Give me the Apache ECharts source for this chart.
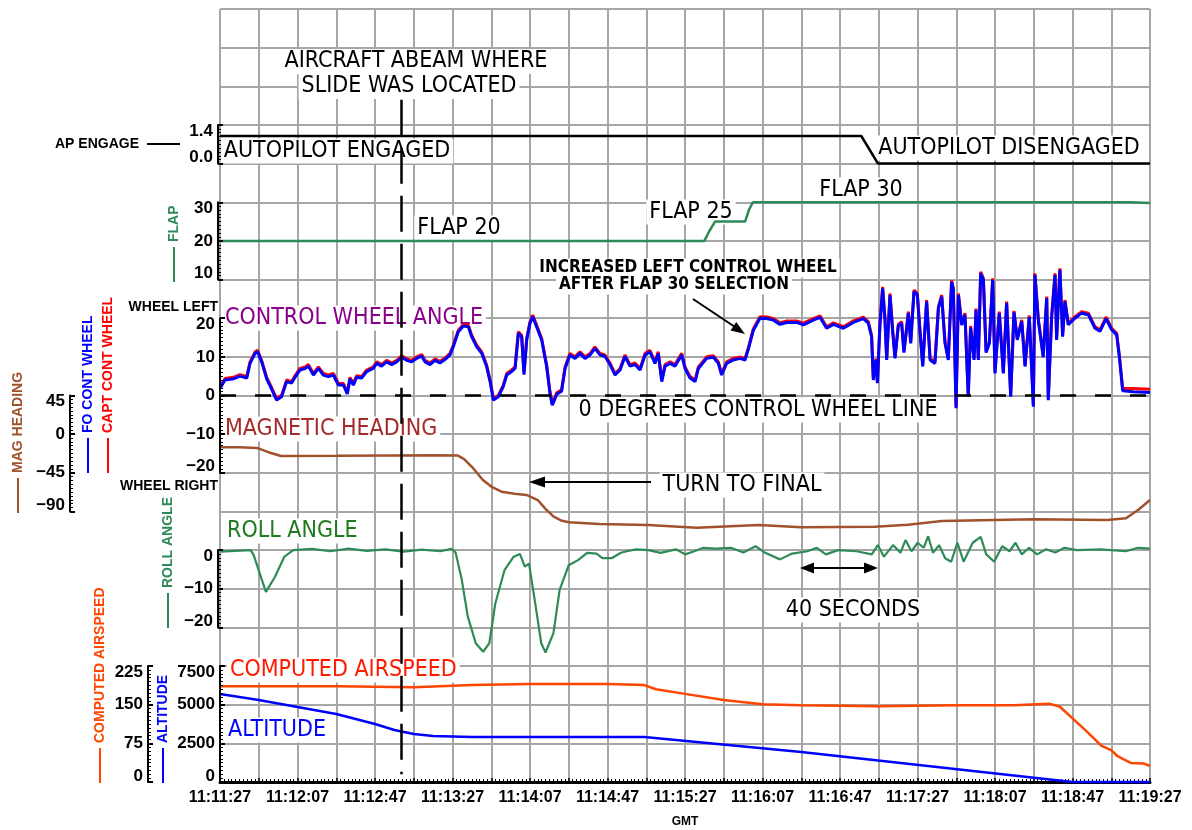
<!DOCTYPE html>
<html><head><meta charset="utf-8">
<script src="https://cdn.jsdelivr.net/npm/echarts@6/dist/echarts.min.js"></script>
<style>html,body{margin:0;padding:0;background:#fff}#c{width:1192px;height:830px}</style>
</head><body><div id="c"></div>
<script>
// ---------- DATA (time in seconds after 11:11:27) ----------
const timeLabels = ['11:11:27','11:12:07','11:12:47','11:13:27','11:14:07','11:14:47','11:15:27','11:16:07','11:16:47','11:17:27','11:18:07','11:18:47','11:19:27'];
const abeamTime = 93.4;

const apEngage = [[0,1],[331,1],[339.6,0],[480,0]];
const flapSetting = [[0,20],[250,20],[252.5,22.5],[255.5,25],[271,25],[273,28],[275,30],[470,30],[480,29.8]];

const wheelT = [
 0,2.6,6.9,10.3,13.8,15.5,18.1,19.4,21.5,24.1,
 26.7,29.2,31.8,34.4,37.0,38.7,41.3,43.9,45.6,48.2,
 50.8,53.3,55.9,58.5,61.1,63.7,65.7,67.1,68.8,70.5,
 73.1,75.7,79.1,80.9,83.4,86.0,88.6,91.2,93.8,96.3,
 98.9,101.5,104.1,105.8,108.4,111.0,113.5,116.1,118.7,120.4,
 123.0,125.6,128.2,129.9,132.5,135.1,137.6,139.4,141.1,143.7,
 146.2,148.0,150.5,152.3,154.0,155.7,156.9,158.3,160.0,161.4,
 163.4,166.0,168.6,170.3,171.5,173.8,176.3,178.1,180.6,183.2,
 185.8,188.4,191.0,193.5,196.1,198.7,201.3,203.9,206.5,209.0,
 211.6,214.2,216.8,219.4,221.9,224.5,226.2,228.0,229.7,232.3,
 234.8,238.3,240.0,242.6,245.2,246.9,251.2,254.6,257.2,258.9,
 261.5,264.9,268.4,271.0,272.7,275.3,278.7,282.1,285.6,289.0,
 292.5,297.6,301.1,306.2,309.7,313.1,316.6,321.7,326.9,332.0,
 334.6,336.3,337.2,338.6,339.3,340.6,342.0,343.2,344.1,345.8,
 347.2,348.4,350.1,351.8,353.0,355.3,356.5,358.2,359.9,361.3,
 362.7,364.7,366.5,369.0,370.8,372.5,374.2,375.9,377.6,378.5,
 379.9,381.1,382.8,384.5,386.2,387.4,389.2,390.2,391.4,392.6,
 394.0,395.4,397.1,398.8,400.0,402.2,404.3,406.0,408.1,409.8,
 411.5,413.8,415.5,417.7,419.8,420.6,422.4,424.9,426.7,427.5,
 429.2,431.0,431.8,433.5,434.9,436.1,437.8,441.3,444.7,448.2,
 451.6,454.2,457.3,460.2,462.8,464.2,465.9,471.4,480];
const foWheel = [
 1.8,4.0,4.3,5.0,4.5,8.3,10.9,11.3,8.7,4.3,
 1.6,-1.2,-0.3,3.6,3.2,4.7,6.6,7.0,7.6,5.3,
 7.0,5.3,4.9,5.3,2.7,2.7,0.4,4.3,2.7,4.7,
 4.5,6.2,7.0,8.3,7.6,8.7,8.0,8.7,9.9,9.1,
 8.7,9.6,10.2,8.7,8.0,9.1,8.4,9.3,10.5,12.6,
 16.5,18.0,17.8,15.2,12.6,10.9,7.5,3.6,-1.2,-0.3,
 2.3,5.3,6.2,7.0,16.1,15.2,5.4,14.4,18.7,20.4,
 17.8,14.4,7.5,0.6,-2.5,0.3,1.1,7.0,10.5,9.6,
 10.9,9.6,10.5,12.2,10.5,10.1,8.0,5.3,6.6,10.1,
 7.6,8.0,6.6,10.5,11.3,8.3,10.9,3.6,7.6,8.3,
 7.6,10.5,7.0,4.5,3.6,7.0,9.6,9.9,8.3,5.3,
 8.3,9.2,9.6,9.2,12.0,16.9,20.0,19.9,19.5,18.4,
 18.9,18.9,18.3,19.5,20.2,17.4,18.4,17.4,18.9,19.9,
 18.7,15.2,4.0,9.2,3.2,18.0,27.7,19.7,9.2,26.0,
 16.4,9.6,18.0,18.7,11.1,21.3,13.5,26.9,26.0,16.4,
 7.5,24.3,9.2,8.3,22.6,25.6,13.5,9.2,29.4,27.3,
 -3.3,26.0,18.2,20.9,-0.3,17.6,9.2,22.1,9.2,31.6,
 29.9,11.1,13.5,29.9,5.7,21.3,5.7,23.9,-0.3,21.5,
 14.4,19.2,7.5,20.3,-2.9,31.2,19.2,9.9,25.2,-1.2,
 20.0,31.2,14.4,32.5,15.2,24.3,18.3,20.0,21.3,20.9,
 17.4,16.6,19.9,17.0,15.7,9.9,1.2,1.0,0.8];
const captWheel = [
 2.2,4.4,4.7,5.4,4.9,8.7,11.3,11.7,9.1,4.7,
 2.0,-0.8,0.1,4.0,3.6,5.1,7.0,7.4,8.0,5.7,
 7.4,5.7,5.3,5.7,3.1,3.1,0.8,4.7,3.1,5.1,
 4.9,6.6,7.4,8.7,8.0,9.1,8.4,9.1,10.3,9.5,
 9.1,10.0,10.6,9.1,8.4,9.5,8.8,9.7,10.9,13.0,
 16.9,18.4,18.2,15.6,13.0,11.3,7.9,4.0,-0.8,0.1,
 2.7,5.7,6.6,7.4,16.5,15.6,5.8,14.8,19.1,20.8,
 18.2,14.8,7.9,1.0,-2.1,0.7,1.5,7.4,10.9,10.0,
 11.3,10.0,10.9,12.6,10.9,10.5,8.4,5.7,7.0,10.5,
 8.0,8.4,7.0,10.9,11.7,8.7,11.3,4.0,8.0,8.7,
 8.0,10.9,7.4,4.9,4.0,7.4,10.0,10.3,8.7,5.7,
 8.7,9.6,10.0,9.6,12.4,17.3,20.4,20.3,19.9,18.8,
 19.3,19.3,18.7,19.9,20.6,17.8,18.8,17.8,19.3,20.3,
 19.1,15.6,4.4,9.6,3.6,18.4,28.1,20.1,9.6,26.4,
 16.8,10.0,18.4,19.1,11.5,21.7,13.9,27.3,26.4,16.8,
 7.9,24.7,9.6,8.7,23.0,26.0,13.9,9.6,29.8,27.7,
 -2.9,26.4,18.6,21.3,0.1,18.0,9.6,22.5,9.6,32.0,
 30.3,11.5,13.9,30.3,6.1,21.7,6.1,24.3,0.1,21.9,
 14.8,19.6,7.9,20.7,-2.5,31.6,19.6,10.3,25.6,-0.8,
 20.4,31.6,14.8,32.9,15.6,24.7,18.7,20.4,21.7,21.3,
 17.8,17.0,20.3,17.4,16.1,10.3,1.8,1.8,1.6];

const magHeading = [[0,-15.3],[10,-15.3],[19,-16],[25,-21],[31.5,-25.4],[60,-25.2],[90,-24.8],[110,-24.6],[122.6,-24.8],
 [126,-29],[130,-38],[135.7,-53.4],[140,-61],[145.3,-67.0],[152,-69.5],[158.2,-70.8],[164,-76.7],[168,-87],[172.2,-96.1],
 [176,-100.5],[180.1,-102.6],[195.6,-104.6],[220.9,-105.8],[246,-108.9],[278,-105.8],[300,-108.5],[338,-107.8],[355,-105.5],
 [372.6,-101.1],[420,-99.1],[457.8,-99.9],[467.6,-98],[474,-88],[480,-76.7]];

const rollAngle = [[0,-0.4],[15.8,0],[17.4,-1.3],[20.5,-6.0],[23.7,-10.8],[28.4,-6.9],[33.2,-1.7],[37.9,0],[47.4,0.3],[56.9,-0.3],
 [66.3,0.4],[75.8,-0.2],[85.3,0.2],[94.8,-0.4],[104.2,0.1],[113.7,-0.3],[119.4,0.3],[121.6,-0.6],[124.8,-7.7],[127.9,-17.2],
 [132.0,-24.1],[135.8,-26.3],[139.0,-24.1],[142.1,-13.8],[146.9,-5.1],[151.6,-1.7],[154.8,-1.0],[157.3,-4.3],[159.5,-3.5],
 [162.7,-13.8],[165.8,-24.1],[168.0,-26.5],[172.1,-21.5],[175.3,-10.3],[180.0,-3.9],[184.8,-2.6],[189.5,-0.7],[194.3,-0.9],
 [197.4,-2.1],[202.1,-2.1],[206.9,-0.7],[210.0,-0.3],[214.8,0.2],[221.1,0],[227.4,-0.7],[235.3,0.2],[240.1,-1.1],[244.8,-0.3],
 [249.5,0.6],[255.8,0.4],[263.7,0.6],[270.1,-0.6],[276.4,1.0],[281.1,-0.6],[289.0,-2.4],[295.3,-0.9],[303.2,-0.3],[308.0,0.6],
 [312.7,-1.1],[319.0,0],[328.5,-0.3],[336.4,-1.1],[339.5,1.3],[342.7,-1.7],[347.4,1.3],[351.2,-0.7],[353.8,2.6],[356.9,-0.3],
 [360.1,1.9],[363.2,0.6],[365.5,3.6],[368.0,-0.7],[371.1,1.3],[374.3,-2.1],[377.4,-3.0],[380.6,1.9],[383.8,-3.0],[388.5,1.9],
 [392.6,3.4],[395.5,-1.1],[399.6,-3.0],[403.7,1.0],[407.5,-0.3],[410.6,1.9],[413.8,-1.1],[417.6,0.6],[421.7,-1.1],[426.4,0.2],
 [431.1,-0.6],[435.9,0.6],[442.2,0],[454.8,0.2],[467.5,-0.3],[473.8,0.6],[480,0.4]];

const airspeed = [[0,186],[20,186],[60,186],[100,184],[130,188],[160,190],[200,190],[219,188],[225,180],[240,171],[260,159],
 [280,151],[300,149],[340,147],[380,149],[410,149],[428,152],[433.5,146],[441,120],[446.5,101],[455,70],[460,62],[463.3,50],
 [470,37],[476.6,36],[480,31]];
const altitude = [[0,5692],[20,5304],[40,4851],[60,4398],[80,3751],[90,3363],[100,3105],[110,2975],[130,2911],[219,2911],
 [300,1940],[440,0],[480,0]];

// ---------- LAYOUT ----------
const L = 220, W = 930, CELL = 38.65;
const gridTop = 9;
const rowTop = r => gridTop + r * CELL;
const AXFONT = {fontFamily:'Liberation Sans', fontWeight:'bold', fontSize:17, color:'#000'};
const minus = v => String(v).replace('-', '\u2212');

function bracketAxis(grid, min, max, interval, offset, fmt) {
  return {
    type:'value', gridIndex:grid, min, max, interval, position:'left', offset, z:4,
    axisLine:{show:true, onZero:false, lineStyle:{color:'#000', width:2}},
    axisTick:{show:true, inside:true, length:5, lineStyle:{color:'#000', width:2}},
    minorTick:{show:true, splitNumber:10, length:3, lineStyle:{color:'#000', width:1}},
    splitLine:{show:false},
    axisLabel:Object.assign({}, AXFONT, {margin:5, lineHeight:12,
      verticalAlignMaxLabel:'top', verticalAlignMinLabel:'bottom',
      formatter: fmt || (v => minus(v))})
  };
}

const grids = [
  {left:L, width:W, top:gridTop, height:20*CELL},          // 0 background
  {left:L, width:W, top:rowTop(3), height:CELL},            // 1 AP
  {left:L, width:W, top:rowTop(5), height:2*CELL},          // 2 flap
  {left:L, width:W, top:rowTop(8), height:4*CELL},          // 3 wheel
  {left:L, width:W, top:rowTop(10), height:3*CELL},         // 4 heading
  {left:L, width:W, top:rowTop(14), height:2*CELL},         // 5 roll
  {left:L, width:W, top:rowTop(17), height:3*CELL}          // 6 speed/alt
];

const xAxes = grids.map((g, i) => i === 0 ? {
  type:'value', gridIndex:0, min:0, max:480, interval:20, position:'bottom',
  axisLine:{show:true, onZero:false, lineStyle:{color:'#000', width:3}},
  axisTick:{show:true, inside:true, length:4, lineStyle:{color:'#000', width:1.5}},
  minorTick:{show:true, splitNumber:10, length:3, lineStyle:{color:'#000', width:1}},
  splitLine:{show:true, lineStyle:{color:'#a6a6a6', width:2}},
  axisLabel:Object.assign({}, AXFONT, {fontSize:16, margin:8, formatter: v => v % 40 === 0 ? timeLabels[v/40] : ''})
} : {type:'value', gridIndex:i, min:0, max:480, show:false});

const yAxes = [
  {type:'value', gridIndex:0, min:0, max:20, interval:1, axisLine:{show:false}, axisTick:{show:false},
   axisLabel:{show:false}, splitLine:{show:true, showMinLine:false, lineStyle:{color:'#a6a6a6', width:2}}},
  bracketAxis(1, 0, 1.4, 1.4, 2, v => v.toFixed(1)),
  bracketAxis(2, 10, 30, 10, 2),
  bracketAxis(3, -20, 20, 10, 0),
  bracketAxis(4, -90, 45, 45, 150),
  bracketAxis(5, -20, 0, 10, 2),
  bracketAxis(6, 0, 225, 75, 72),
  bracketAxis(6, 0, 7500, 2500, 0)
];

const zip = (t, v) => t.map((x, i) => [x, v[i]]);
function line(name, data, xi, yi, color, width, extra) {
  return Object.assign({type:'line', name, data, xAxisIndex:xi, yAxisIndex:yi, showSymbol:false, symbol:'none',
    clip:false, smooth:false, lineStyle:{color, width}, z:3}, extra || {});
}

const series = [
  line('abeam', [[abeamTime, 0.2]], 0, 0, 'rgba(0,0,0,0)', 0, {
    markLine:{silent:true, symbol:['none','none'], label:{show:false},
      lineStyle:{color:'#000', width:2.5, type:[36,12]},
      data:[[{coord:[abeamTime, 17.65]}, {coord:[abeamTime, 0.2]}]]}}),
  line('AP ENGAGE', apEngage, 1, 1, '#000', 2.5),
  line('FLAP', flapSetting, 2, 2, '#2E8B57', 2.5),
  line('CAPT CONT WHEEL', zip(wheelT, captWheel), 3, 3, '#FF0000', 3),
  line('FO CONT WHEEL', zip(wheelT, foWheel), 3, 3, '#0000FF', 3, {
    markLine:{silent:true, symbol:['none','none'], label:{show:false},
      lineStyle:{color:'#000', width:2.5, type:[16,19]}, data:[{yAxis:0}]}}),
  line('MAG HEADING', magHeading, 4, 4, '#A0522D', 2.5),
  line('ROLL ANGLE', rollAngle, 5, 5, '#2E8B57', 2.2),
  line('COMPUTED AIRSPEED', airspeed, 6, 6, '#FF4500', 2.5),
  line('ALTITUDE', altitude, 6, 7, '#0000FF', 2.5)
];

// ---------- TEXT ANNOTATIONS ----------
const ANN = 'DejaVu Sans Condensed';
function ann(text, x, y, fill, align, size, weight) {
  return {type:'text', z:1, x, y, style:{text, fill:fill||'#000', align:align||'center', verticalAlign:'middle',
    fontFamily:ANN, fontSize:size||23, fontWeight:weight||'normal', backgroundColor:'#fff', padding:[1,3]}};
}
function lbl(text, x, y, fill, align) {
  return {type:'text', z:1, x, y, style:{text, fill:fill||'#000', align:align||'right', verticalAlign:'middle',
    fontFamily:'Liberation Sans', fontSize:14, fontWeight:'bold'}};
}
function vlbl(text, x, yBottom, fill) {
  return [
    {type:'text', z:1, x, y:yBottom, rotation:Math.PI/2, style:{text, fill, align:'left', verticalAlign:'middle',
      fontFamily:'Liberation Sans', fontSize:14, fontWeight:'bold'}},
    {type:'line', z:1, shape:{x1:x, y1:yBottom+5, x2:x, y2:yBottom+40}, style:{stroke:fill, lineWidth:2}}
  ];
}
function seg(x1, y1, x2, y2, w) {
  return {type:'line', z:1, shape:{x1, y1, x2, y2}, style:{stroke:'#000', lineWidth:w||2}};
}
function head(points) {
  return {type:'polygon', z:1, shape:{points}, style:{fill:'#000'}};
}
const graphics = [
  ann('AIRCRAFT ABEAM WHERE', 416, 61.5),
  ann('SLIDE WAS LOCATED', 409, 86.5),
  ann('AUTOPILOT ENGAGED', 337, 151),
  ann('AUTOPILOT DISENGAGED', 1009, 148),
  ann('FLAP 20', 459, 228),
  ann('FLAP 25', 691, 212),
  ann('FLAP 30', 861, 190),
  ann('INCREASED LEFT CONTROL WHEEL', 688, 268, '#000', 'center', 17, 'bold'),
  ann('AFTER FLAP 30 SELECTION', 674, 285, '#000', 'center', 17, 'bold'),
  ann('CONTROL WHEEL ANGLE', 222, 318, '#8B008B', 'left'),
  ann('0 DEGREES CONTROL WHEEL LINE', 758, 410),
  ann('MAGNETIC HEADING', 222, 429, '#A52A2A', 'left'),
  ann('TURN TO FINAL', 742, 485),
  ann('ROLL ANGLE', 224, 531, '#1E7B1E', 'left'),
  ann('40 SECONDS', 853, 610),
  ann('COMPUTED AIRSPEED', 227, 670, '#FF1A00', 'left'),
  ann('ALTITUDE', 225, 730, '#0000FF', 'left'),
  seg(693, 299, 735, 327), head([[745,334],[730.6,330.4],[736.2,322]]),
  seg(651, 482, 540, 482), head([[529,482],[545,476.5],[545,487.5]]),
  seg(812, 568, 866, 568), head([[800,568],[814,562.5],[814,573.5]]), head([[878,568],[864,562.5],[864,573.5]]),
  lbl('AP ENGAGE', 139, 144), seg(147, 144, 180, 144),
  lbl('WHEEL LEFT', 218, 307.5),
  lbl('WHEEL RIGHT', 218, 486),
  {type:'text', z:1, x:685, y:822, style:{text:'GMT', fill:'#000', align:'center', verticalAlign:'middle',
    fontFamily:'Liberation Sans', fontSize:12, fontWeight:'bold'}},
  ...vlbl('FLAP', 174, 242, '#2E8B57'),
  ...vlbl('MAG HEADING', 18, 473, '#A0522D'),
  ...vlbl('FO CONT WHEEL', 88, 433, '#0000FF'),
  ...vlbl('CAPT CONT WHEEL', 108, 433, '#FF0000'),
  ...vlbl('ROLL ANGLE', 168, 588, '#2E8B57'),
  ...vlbl('COMPUTED AIRSPEED', 100, 743, '#FF4500'),
  ...vlbl('ALTITUDE', 163, 743, '#0000FF')
];

const chart = echarts.init(document.getElementById('c'), null, {renderer:'canvas'});
chart.setOption({
  animation:false,
  backgroundColor:'#fff',
  grid:grids, xAxis:xAxes, yAxis:yAxes, series,
  graphic:{elements:graphics}
});
</script></body></html>
